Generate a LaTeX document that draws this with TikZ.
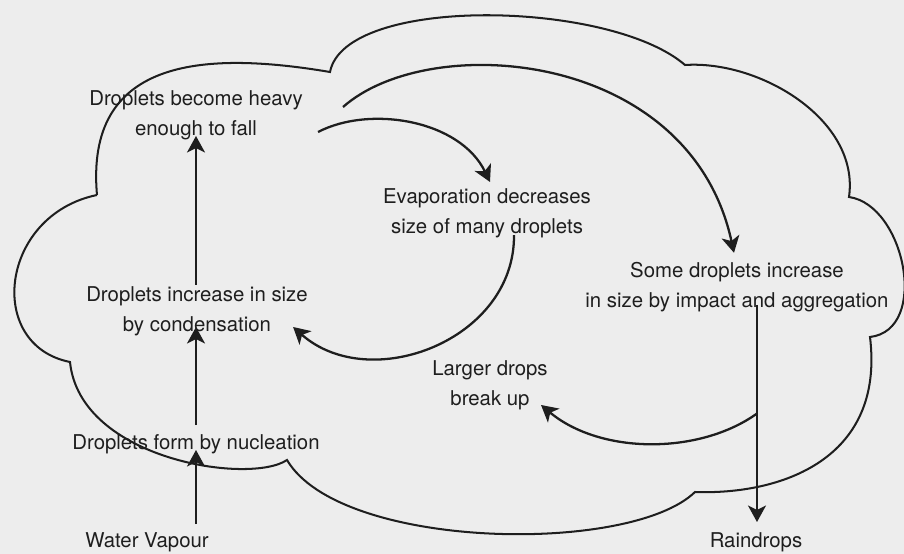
\documentclass[tikz,border=0pt]{standalone}
\usepackage{fontspec}
\setmainfont{TeX Gyre Heros}
\usepackage{xcolor}
\usepackage{tikz}
\usetikzlibrary{calc,arrows.meta}

\definecolor{paper}{HTML}{EDEDED}
\definecolor{ink}{HTML}{1E1E1E}

\begin{document}
\begin{tikzpicture}[x=0.02cm, y=-0.02cm,
  cycle node/.style={inner sep=0pt, align=center, text=ink, font=\fontsize{11.6}{17.1}\selectfont},
  flow/.style={line width=1.3pt, draw=ink, -{Stealth[length=3.3mm, width=3.6mm, inset=0.9mm]}},
  cloud line/.style={line width=1.15pt, draw=ink}]

  \path[use as bounding box, fill=paper] (0,0) rectangle (904,554);

  % cloud outline
  \draw[cloud line] (97,195)
    .. controls (85,60) and (200,50) .. (330,72)
    .. controls (345,-5) and (610,0) .. (685,65)
    .. controls (760,60) and (860,120) .. (849,197)
    .. controls (905,205) and (930,330) .. (870,337)
    .. controls (885,460) and (780,495) .. (695,492)
    .. controls (630,555) and (340,550) .. (287,460)
    .. controls (250,485) and (80,460) .. (70,362)
    .. controls (-15,345) and (0,215) .. (97,195);

  \node [cycle node] (Heavy) at (196,115) {Droplets become heavy\\enough to fall};
  \node [cycle node] (Evap) at (487,213) {Evaporation decreases\\size of many droplets};
  \node [cycle node] (Impact) at (737,287) {Some droplets increase\\in size by impact and aggregation};
  \node [cycle node] (Cond) at (197,311) {Droplets increase in size\\by condensation};
  \node [cycle node] (Breakup) at (490,385) {Larger drops\\break up};
  \node [cycle node] (Nucl) at (196,444) {Droplets form by nucleation};
  \node [cycle node] (Vapour) at (147,542) {Water Vapour};
  \node [cycle node] (Rain) at (756,542) {Raindrops};

  % upward chain
  \draw[flow] ($(Nucl.center |- Vapour.center)+(0,-18)$) -- ($(Nucl.center)+(0,6)$);
  \draw[flow] ($(Nucl.center)+(0,-19)$) -- ($(Nucl.center |- Cond.center)+(0,16)$);
  \draw[flow] ($(Nucl.center |- Cond.center)+(0,-26)$) -- ($(Nucl.center |- Heavy.center)+(0,21)$);

  % falling drops
  \draw[flow] ($(Heavy.east)+(40,-8)$) .. controls +(87,-77) and +(-44,-203) .. ($(Impact.north)+(-3,-9)$);
  \draw[flow] ($(Heavy.east)+(15,17)$) .. controls +(52,-27) and +(-30,-62) .. ($(Evap.north)+(3,-6)$);
  \draw[flow] ($(Evap.south)+(27,-3)$) .. controls +(1,105) and +(77,68) .. ($(Cond.east)+(-15,16)$);

  % raindrops and break up
  \draw[flow] ($(Impact.center)+(20,18)$) -- coordinate[pos=0.5] (Split) ($(Rain.north)+(1,-10)$);
  \draw[flow] (Split) .. controls +(-57,41) and +(60,50) .. ($(Breakup.east)+(-7,20)$);
\end{tikzpicture}
\end{document}
